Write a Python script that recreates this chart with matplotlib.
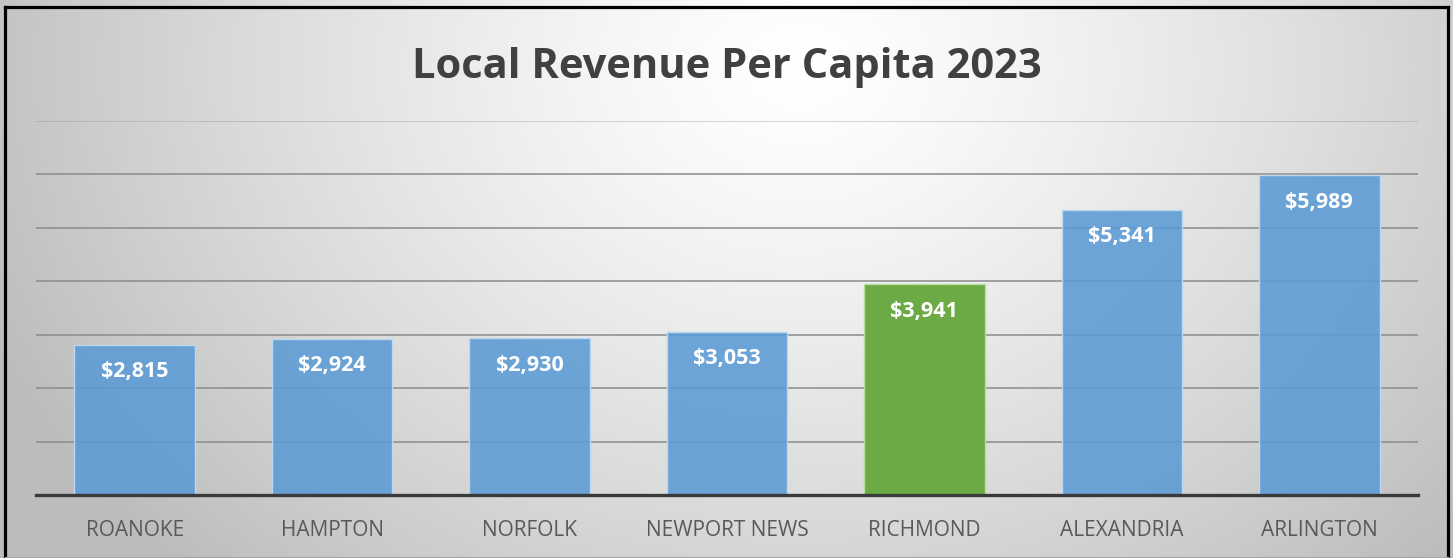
import numpy as np
import matplotlib
matplotlib.use("Agg")
import matplotlib.pyplot as plt
from matplotlib.lines import Line2D

categories = ["ROANOKE", "HAMPTON", "NORFOLK", "NEWPORT NEWS", "RICHMOND", "ALEXANDRIA", "ARLINGTON"]
values = [2815, 2924, 2930, 3053, 3941, 5341, 5989]
highlight = "RICHMOND"
title = "Local Revenue Per Capita 2023"

W, H = 1453, 558
fig = plt.figure(figsize=(W / 100, H / 100), dpi=100)

# background radial gradient
bg = fig.add_axes([0, 0, 1, 1], zorder=-10)
yy, xx = np.mgrid[0:H, 0:W]
cx, cy = 0.55 * W, 0.12 * H
d = np.sqrt(((xx - cx) / (0.62 * W)) ** 2 + ((yy - cy) / (1.3 * H)) ** 2)
g = np.clip(1.0 - 0.27 * d ** 1.3, 0.74, 1.0)
bg.imshow(np.dstack([g, g, g]), aspect="auto", extent=[0, 1, 0, 1], origin="upper")
bg.set_xlim(0, 1)
bg.set_ylim(0, 1)
bg.axis("off")

# borders
def px(x, y):
    return x / W, 1 - y / H
for (x0, y0, x1, y1, c, lw) in [
    (4.5, 7, 1448, 7, "black", 3.2),
    (4.5, 7, 4.5, 558, "black", 3.2),
    (1448, 7, 1448, 558, "black", 3.2),
    (4.5, 556.5, 1448, 556.5, "#a8a8a8", 1.2),
]:
    a, b = px(x0, y0)
    c2, d2 = px(x1, y1)
    fig.add_artist(Line2D([a, c2], [b, d2], transform=fig.transFigure, color=c,
                          lw=lw * 0.72, solid_capstyle="projecting"))

ax = fig.add_axes([36 / W, 1 - 495 / H, 1382 / W, 374 / H])
ax.patch.set_alpha(0)
x = np.arange(len(categories))
colors = [(0.42, 0.667, 0.27, 1.0) if c == highlight else (0.357, 0.608, 0.835, 0.88)
          for c in categories]
edges = ["#b7dd9f" if c == highlight else "#bdd7ee" for c in categories]
bars = ax.bar(x, values, width=0.61, color=colors, edgecolor=edges,
              linewidth=1.0, zorder=3)
ax.set_xlim(-0.5, len(categories) - 0.5)
ax.set_ylim(0, 7000)
gridvals = np.arange(1000, 7001, 1000)
for gv in gridvals:
    ax.axhline(gv, color="#8c8c8c", lw=1.4, alpha=0.35 if gv == gridvals[-1] else 0.8, zorder=1)
ax.set_yticks([])
for s in ["top", "right", "left"]:
    ax.spines[s].set_visible(False)
ax.spines["bottom"].set_color("#3a3a3a")
ax.spines["bottom"].set_linewidth(2.4)
ax.spines["bottom"].set_zorder(5)
ax.tick_params(axis="x", length=0, pad=18)
ax.set_xticks(x)
ax.set_xticklabels(categories, fontsize=15, color="#595959", family="Open Sans")

for xi, v in zip(x, values):
    ax.annotate(f"${v:,}", (xi, v), xytext=(0, -27), textcoords="offset pixels",
                ha="center", va="center", color="white", fontsize=15.5, fontweight="bold",
                family="Open Sans", zorder=6)

fig.text(0.5, 1 - 78 / H, title, ha="center", va="baseline", fontsize=30, fontweight="bold",
         color="#404040", family="Open Sans")

fig.savefig("out.png", dpi=100)
